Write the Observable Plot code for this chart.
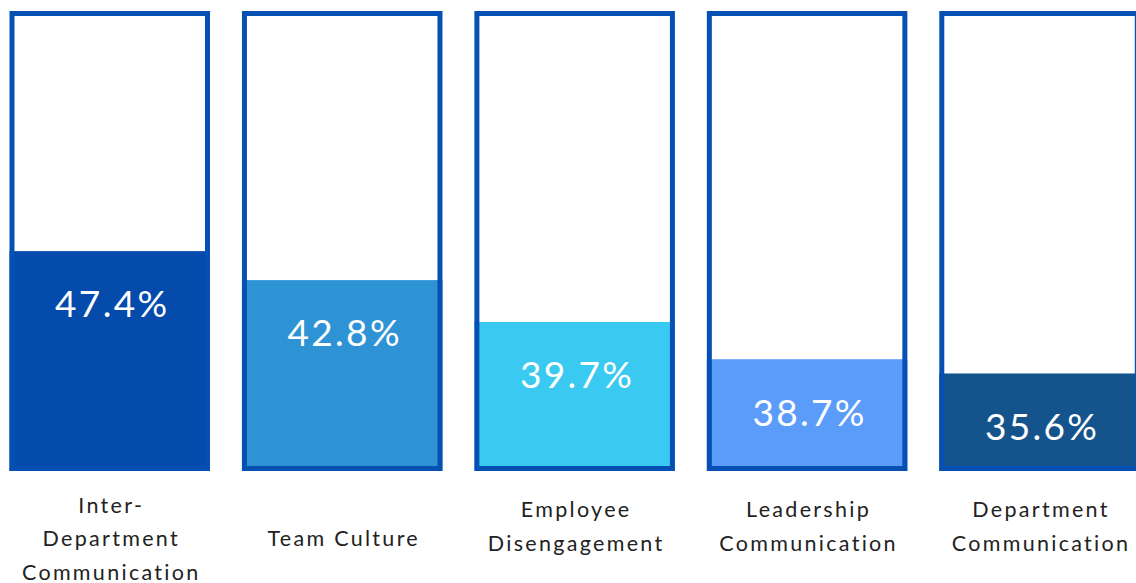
<!DOCTYPE html>
<html>
<head>
<meta charset="utf-8">
<script src="https://cdn.jsdelivr.net/npm/d3@7"></script>
<script src="https://cdn.jsdelivr.net/npm/@observablehq/plot@0.6"></script>
<style>
  html, body { margin: 0; padding: 0; background: #ffffff; }
  #chart svg { display: block; }
</style>
</head>
<body>
<div id="chart"></div>
<script>
const categories = [
  "Inter-\nDepartment\nCommunication",
  "Team Culture",
  "Employee\nDisengagement",
  "Leadership\nCommunication",
  "Department\nCommunication"
];
const values = [47.4, 42.8, 39.7, 38.7, 35.6];
// drawn fill level of each box (percent of box height)
const fillLevels = [47.8, 41.5, 32.4, 24.3, 21.2];
const fillColors = ["#044bac", "#2e93d5", "#3ac9f0", "#5b9cfa", "#14538b"];
const boxMax = 100;

const data = categories.map((c, i) => ({
  cat: c,
  value: values[i],
  level: fillLevels[i],
  color: fillColors[i],
  label: values[i].toFixed(1) + "%",
  lines: c.split("\n").length
}));

const font = "Lato, 'Open Sans', sans-serif";

const chart = Plot.plot({
  width: 1136,
  height: 583,
  marginTop: 11,
  marginBottom: 112,
  marginLeft: 0,
  marginRight: 0,
  style: { background: "#ffffff", fontFamily: font },
  x: { domain: categories, range: [-6.47, 1155.78], paddingInner: 0.1374, paddingOuter: 0.0687, round: false, axis: null },
  y: { domain: [0, boxMax], axis: null },
  color: { type: "identity" },
  marks: [
    Plot.barY(data, { x: "cat", y: "level", fill: "color" }),
    Plot.barY(data, { x: "cat", y1: 0, y2: boxMax, fill: "none", stroke: "#0650b4", strokeWidth: 5, inset: 2.5 }),
    Plot.text(data, {
      x: "cat", y: "level", text: "label", fill: "#ffffff",
      fontSize: 37, fontFamily: font, lineAnchor: "middle", dy: 54, dx: 2
    }),
    Plot.text(data.filter(d => d.lines !== 2), {
      x: "cat", text: "cat", frameAnchor: "bottom", lineAnchor: "middle", dy: 64, dx: 1,
      fill: "#222222", fontSize: 21.5, fontFamily: font, lineHeight: 1.56
    }),
    Plot.text(data.filter(d => d.lines === 2), {
      x: "cat", text: "cat", frameAnchor: "bottom", lineAnchor: "middle", dy: 52, dx: 1,
      fill: "#222222", fontSize: 21.5, fontFamily: font, lineHeight: 1.56
    })
  ]
});

chart.querySelectorAll("text").forEach(t => {
  t.style.letterSpacing = t.getAttribute("font-size") === "37" ? "4.2px" : "2.3px";
});
document.getElementById("chart").appendChild(chart);
</script>
</body>
</html>
